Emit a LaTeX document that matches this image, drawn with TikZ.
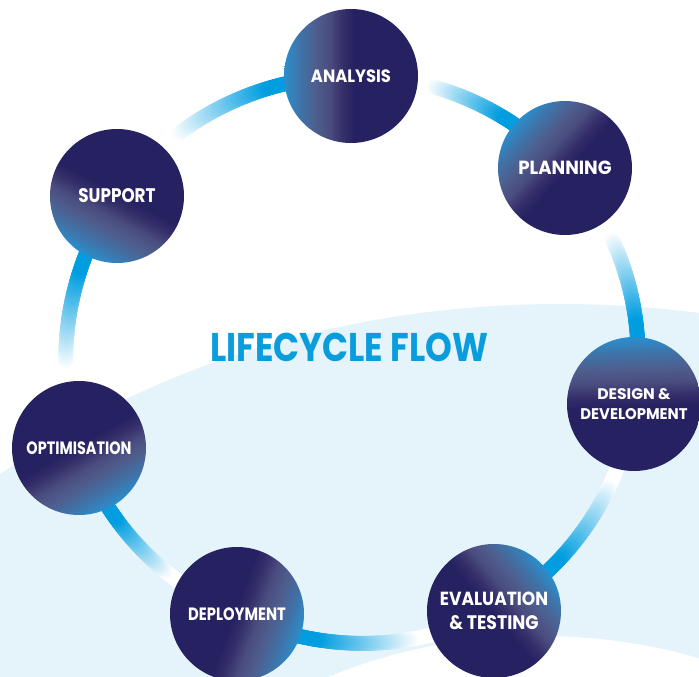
\documentclass[tikz,border=0pt]{standalone}
\usepackage{fontspec}
\setmainfont{Poppins}
\usepackage{graphicx}
\usetikzlibrary{decorations.markings}
\definecolor{navy}{HTML}{262262}
\definecolor{stgblue}{HTML}{2A8ECD}
\definecolor{stgA}{HTML}{3F73A8}
\definecolor{stgB}{HTML}{4E5D8D}
\definecolor{stgC}{HTML}{4A4C7F}
\definecolor{stgD}{HTML}{342E69}
\definecolor{ringblue}{HTML}{009EE0}
\definecolor{titleblue}{HTML}{0A9DDD}
\definecolor{bgblue}{HTML}{E5F4FB}
\pgfdeclareverticalshading{stageshade}{100bp}{color(0bp)=(stgblue); color(25bp)=(stgblue); color(31bp)=(stgA); color(37bp)=(stgB); color(42bp)=(stgC); color(47bp)=(stgD); color(51bp)=(navy); color(100bp)=(navy)}
\pgfdeclarelayer{bglayer}
\pgfdeclarelayer{ringlayer}
\pgfsetlayers{bglayer,ringlayer,main}
\newcommand{\fitbox}[3]{\resizebox{#1pt}{#2pt}{#3}}
\newcommand{\flowdot}{%
  \pgfmathsetmacro\flowt{((\pgfkeysvalueof{/pgf/decoration/mark info/distance from start})-67)/((\pgfdecoratedpathlength)-134)}%
  \pgfmathsetmacro\flowfr{max(0,min(100,135*\flowt-20))}%
  \fill[ringblue!\flowfr!white] (0,0) circle[radius=7.5pt];}
\begin{document}
\begin{tikzpicture}[x=1pt,y=1pt,
  stage/.style={circle, minimum size=134pt, inner sep=0pt, shade, shading=stageshade,
    text=white, font=\bfseries, align=center},
  title/.style={text=titleblue, font=\bfseries, inner sep=0pt},
  flow/.style={decorate, looseness=0.9,
    decoration={markings, mark=between positions 0 and 1 step 1.5pt with {\flowdot}}}]
\useasboundingbox (0,0) rectangle (699,-677);
\begin{pgfonlayer}{bglayer}
\begin{scope}
  \clip (0,0) rectangle (699,-677);
  \fill[white] (0,0) rectangle (699,-677);
  \fill[bgblue] (560,-900) ellipse [x radius=800pt, y radius=596pt];
  \fill[white] (540,-908) ellipse [x radius=400pt, y radius=272pt];
\end{scope}
\end{pgfonlayer}
\node[stage, shading angle=270] (an) at (351,-76) {\fitbox{80}{12.7}{ANALYSIS}};
\node[stage, shading angle=228] (pl) at (565,-168) {\fitbox{93.3}{13.5}{PLANNING}};
\node[stage, shading angle=182, font=\bfseries\fontsize{10}{20}\selectfont] (dd) at (634,-404)
  {\fitbox{73.3}{11}{DESIGN \&}\\\fitbox{107.3}{11}{DEVELOPMENT}};
\node[stage, shading angle=130, font=\bfseries\fontsize{10}{23.5}\selectfont] (ev) at (494,-611)
  {\fitbox{108.3}{13.5}{EVALUATION}\\\fitbox{89.3}{14}{\& TESTING}};
\node[stage, shading angle=70] (de) at (237,-614) {\fitbox{97.7}{12.7}{DEPLOYMENT}};
\node[stage, shading angle=30] (op) at (79,-448) {\fitbox{105}{12.7}{OPTIMISATION}};
\node[stage, shading angle=-28] (su) at (117,-196) {\fitbox{77.3}{14}{SUPPORT}};
\node[title, anchor=base] (ttl) at (349,-361) {\fitbox{278}{28.5}{LIFECYCLE FLOW}};
\begin{pgfonlayer}{ringlayer}
\path[flow] (an.center) to[bend left=24] (pl.center);
\path[flow] (pl.center) to[bend left=26] (dd.center);
\path[flow] (dd.center) to[bend left=26] (ev.center);
\path[flow] (ev.center) to[bend left=27] (de.center);
\path[flow] (de.center) to[bend left=24] (op.center);
\path[flow] (op.center) to[bend left=26] (su.center);
\path[flow] (su.center) to[bend left=27] (an.center);
\end{pgfonlayer}
\end{tikzpicture}
\end{document}
